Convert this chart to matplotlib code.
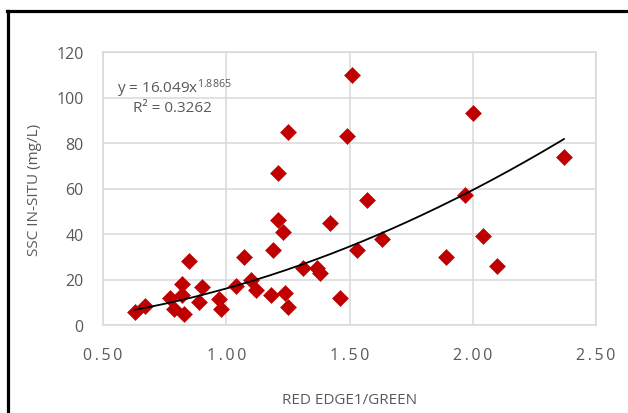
import matplotlib
matplotlib.use("Agg")
import matplotlib.pyplot as plt
from matplotlib.lines import Line2D
from matplotlib.ticker import FuncFormatter
import numpy as np

# Band ratio (Red Edge 1 / Green) and in-situ suspended sediment concentration
ratio = [0.63, 0.67, 0.77, 0.79, 0.82, 0.82, 0.83, 0.85, 0.89, 0.90,
         0.97, 0.98, 1.04, 1.07, 1.10, 1.12, 1.18, 1.19, 1.21, 1.21,
         1.23, 1.24, 1.25, 1.25, 1.31, 1.37, 1.38, 1.42, 1.46, 1.49,
         1.51, 1.53, 1.57, 1.63, 1.89, 1.97, 2.00, 2.04, 2.10, 2.37]
ssc = [5.6, 8.5, 12, 7, 18, 13, 4.8, 28, 10, 16.6,
       11.4, 7, 17.3, 30, 20, 15.5, 13, 33, 67, 46,
       41, 14, 85, 8, 25, 25, 23, 45, 12, 83,
       110, 33, 55, 38, 30, 57, 93, 39, 26, 74]

# Power trendline y = a * x^b
coef_a = 16.049
coef_b = 1.8865
r_squared = 0.3262

x_ticks = [0.50, 1.00, 1.50, 2.00, 2.50]
y_ticks = [0, 20, 40, 60, 80, 100, 120]

plt.rcParams["font.family"] = ["Open Sans", "DejaVu Sans"]
plt.rcParams["mathtext.fontset"] = "custom"
plt.rcParams["mathtext.rm"] = "Open Sans"
plt.rcParams["mathtext.it"] = "Open Sans"

text_gray = "#595959"
grid_gray = "#D9D9D9"
marker_red = "#C00000"

fig = plt.figure(figsize=(6.28, 4.14), dpi=100)
ax = fig.add_axes([103 / 628, 1 - 326 / 414, (596 - 103) / 628, (326 - 53) / 414])

ax.plot(ratio, ssc, linestyle="none", marker="D", markersize=8.3,
        markerfacecolor=marker_red, markeredgecolor=marker_red,
        markeredgewidth=0.4, zorder=3)

xs = np.linspace(min(ratio), max(ratio), 200)
ax.plot(xs, coef_a * xs ** coef_b, color="black", linewidth=1.3, zorder=4)

ax.set_xlim(0.5, 2.5)
ax.set_ylim(0, 120)
ax.set_xticks(x_ticks)
ax.set_yticks(y_ticks)
ax.xaxis.set_major_formatter(FuncFormatter(lambda v, p: "\u2009".join(f"{v:.2f}")))
ax.grid(True, color=grid_gray, linewidth=1.1)
ax.set_axisbelow(True)
for sp in ax.spines.values():
    sp.set_color(grid_gray)
    sp.set_linewidth(1.1)
ax.tick_params(length=0, labelsize=11.5, labelcolor=text_gray)
ax.tick_params(axis="x", pad=16)
ax.tick_params(axis="y", pad=14)

ax.set_xlabel("RED EDGE1/GREEN", fontsize=11, color=text_gray, labelpad=21)
ax.set_ylabel("SSC IN-SITU (mg/L)", fontsize=11, color=text_gray, labelpad=10)

ax.text(0.557, 104.5, f"y = {coef_a:.3f}x$^{{{coef_b:.4f}}}$", fontsize=11,
        color=text_gray, ha="left", va="center")
ax.text(0.622, 95.5, f"R\u00b2 = {r_squared:.4f}", fontsize=11,
        color=text_gray, ha="left", va="center")

# Outer chart frame (left and top edges)
fig.add_artist(Line2D([7.5 / 628, 7.5 / 628], [0, 1 - 11.5 / 414],
                      transform=fig.transFigure, color="black", linewidth=2.3))
fig.add_artist(Line2D([6.5 / 628, 1], [1 - 11.5 / 414, 1 - 11.5 / 414],
                      transform=fig.transFigure, color="black", linewidth=2.3))

fig.savefig("out.png", dpi=100)
